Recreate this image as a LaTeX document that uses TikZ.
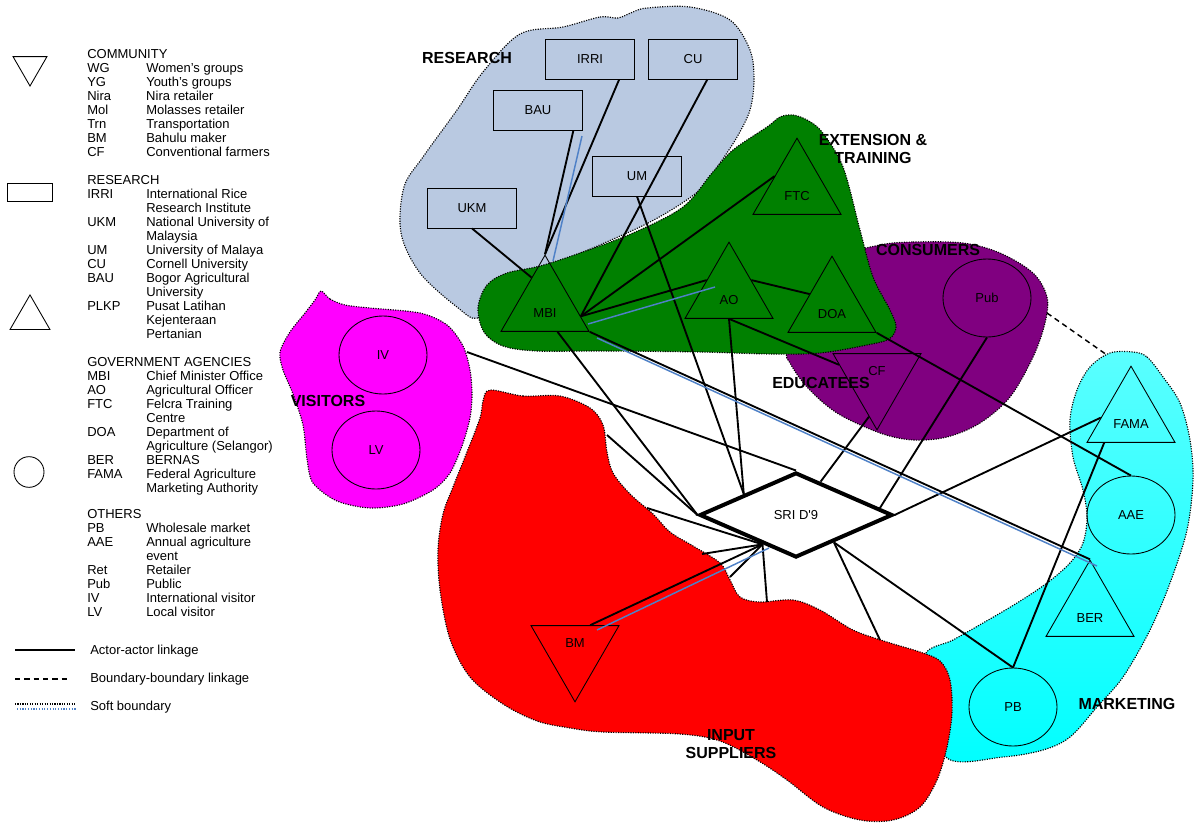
\documentclass[tikz,border=0pt]{standalone}
\usepackage{fontspec}
\setmainfont{Liberation Sans}
\usetikzlibrary{shapes.geometric,calc}
\definecolor{resblue}{RGB}{185,201,225}
\definecolor{extgreen}{RGB}{0,128,0}
\definecolor{conpurple}{RGB}{128,0,128}
\definecolor{vismag}{RGB}{255,0,255}
\definecolor{inred}{RGB}{255,0,0}
\definecolor{mkcyan}{RGB}{0,255,255}
\definecolor{mkcyanlt}{RGB}{90,255,255}
\definecolor{softblue}{RGB}{79,129,199}
\newcommand{\legkey}[1]{\makebox[44.25pt][l]{#1}}
\begin{document}
\begin{tikzpicture}[x=0.75pt,y=-0.75pt,
  blob/.style={draw=black,line width=0.85pt,dash pattern=on 0.85pt off 1pt},
  lbl/.style={font=\fontsize{9.75}{11}\selectfont},
  outl/.style={draw=black,line width=0.65pt},
  rbox/.style={outl,rectangle,minimum width=66.75pt,minimum height=30pt,inner sep=0pt,lbl},
  tri/.style={outl,regular polygon,regular polygon sides=3,minimum size=76.2pt,inner sep=0pt},
  itri/.style={tri,shape border rotate=180},
  ell/.style={outl,ellipse,minimum width=66pt,minimum height=58.5pt,inner sep=0pt,lbl},
  uplbl/.style={label={[lbl,yshift=-5.25pt]center:#1}},
  dnlbl/.style={label={[lbl,yshift=6pt]center:#1}},
  link/.style={draw=black,line width=1.4pt},
  soft/.style={draw=softblue,line width=1.1pt},
  bdash/.style={draw=black,line width=1.1pt,dash pattern=on 4pt off 3pt},
  region/.style={font=\bfseries\fontsize{12}{13.5}\selectfont,align=center,inner sep=0pt},
  legtxt/.style={font=\fontsize{9.75}{10.5}\selectfont,align=left,anchor=north west,inner sep=0pt},
]
\useasboundingbox (0,0) rectangle (1197,825);

% ---------- soft boundaries (blobs) ----------
\path[blob,fill=resblue] plot[smooth cycle,tension=0.55] coordinates {
 (563,27) (600,17) (618,18) (633,12) (647,8) (690,7) (730,20) (750,50) (754,80)
 (750,110) (737,137) (720,163) (700,190) (650,222) (570,258) (500,290) (478,318)
 (457,307) (420,273) (401,233) (404,187) (423,157) (457,110) (483,72) (520,34)};
\path[blob,fill=conpurple] plot[smooth cycle,tension=0.55] coordinates {
 (880,245) (913,242) (963,243) (1000,253) (1033,273) (1047,297) (1045,323)
 (1033,357) (1010,397) (980,423) (947,437) (913,440) (880,433) (837,413)
 (807,387) (790,363) (787,350) (800,300) (840,258)};
\path[blob,fill=extgreen] plot[smooth cycle,tension=0.55] coordinates {
 (793,115) (807,120) (822,132) (843,167) (860,230) (873,277) (890,310) (896,327)
 (889,339) (867,345) (820,353) (770,354) (700,352) (603,351) (537,351) (503,346)
 (484,332) (478,308) (487,285) (507,273) (540,266) (580,253) (633,233) (683,207)
 (712,173) (733,150) (767,127) (780,117)};
\path[blob,fill=vismag] plot[smooth cycle,tension=0.5] coordinates {
 (321,291) (330,299) (345,305) (370,308) (420,313) (447,325) (463,346) (470,370)
 (472,394) (470,418) (462,446) (450,473) (433,490) (403,504) (370,508) (337,501)
 (313,483) (307,459) (303,425) (293,394) (283,370) (280,352) (290,332) (305,313) (315,300)};
\path[blob,top color=mkcyanlt,bottom color=mkcyan] plot[smooth cycle,tension=0.55] coordinates {
 (1133,352) (1147,357) (1163,377) (1180,403) (1190,440) (1193,480) (1187,530)
 (1170,583) (1150,630) (1123,677) (1097,707) (1070,737) (1043,750) (1003,757)
 (947,758) (935,700) (925,655) (953,640) (983,623) (1017,603) (1047,583)
 (1070,563) (1083,543) (1087,517) (1083,490) (1073,457) (1070,420) (1077,390)
 (1090,367) (1110,353)};
\path[blob,fill=inred] plot[smooth cycle,tension=0.55] coordinates {
 (490,390) (523,396) (560,396) (590,408) (603,425) (607,452) (613,473) (630,494)
 (653,514) (670,532) (693,546) (720,563) (730,580) (740,597) (760,602) (793,600)
 (820,610) (853,630) (887,642) (920,652) (940,661) (950,680) (952,713) (947,747)
 (937,780) (920,807) (893,820) (860,820) (823,807) (787,780) (757,760) (720,741)
 (680,734) (603,732) (570,728) (537,721) (503,704) (470,677) (450,639) (440,590)
 (438,549) (443,514) (453,487) (467,452) (480,418) (483,401)};

% ---------- actors ----------
\node[rbox] (IRRI) at (590,59) {IRRI};
\node[rbox] (CU)   at (693,59) {CU};
\node[rbox] (BAU)  at (538,110) {BAU};
\node[rbox] (UM)   at (637,176) {UM};
\node[rbox] (UKM)  at (472,208) {UKM};
\node[tri,uplbl=MBI] (MBI) at (545,306) {};
\node[tri,uplbl=FTC] (FTC) at (797,189) {};
\node[tri,uplbl=AO]  (AO)  at (729,293) {};
\node[tri,uplbl=DOA] (DOA) at (832,307) {};
\node[itri,dnlbl=CF] (CF)  at (877,379) {};
\node[ell] (Pub) at (987,298) {Pub};
\node[ell] (IV)  at (383,355) {IV};
\node[ell] (LV)  at (376,450) {LV};
\node[itri,dnlbl=BM] (BM) at (575,651) {};
\node[tri,uplbl=FAMA] (FAMA) at (1131,417) {};
\node[ell] (AAE) at (1131,515) {AAE};
\node[tri,uplbl=BER] (BER) at (1090,611) {};
\node[ell] (PB)  at (1013,707) {PB};
\node[outl,diamond,line width=3pt,aspect=2.27,minimum width=144.75pt,minimum height=63.75pt,inner sep=0pt,lbl] (SRI) at (796,515) {SRI D\textquotesingle 9};

% ---------- attachment points ----------
\coordinate (mbiL) at ($(MBI.corner 1)!0.3!(MBI.corner 2)$);
\coordinate (mbiR) at ($(MBI.corner 1)!0.8!(MBI.corner 3)$);
\coordinate (mbiB) at ($(MBI.corner 2)!0.64!(MBI.corner 3)$);
\coordinate (ftcL) at ($(FTC.corner 1)!0.5!(FTC.corner 2)$);
\coordinate (aoL)  at ($(AO.corner 1)!0.5!(AO.corner 2)$);
\coordinate (aoR)  at ($(AO.corner 1)!0.5!(AO.corner 3)$);
\coordinate (doaL) at ($(DOA.corner 1)!0.5!(DOA.corner 2)$);
\coordinate (cfA)  at ($(CF.corner 3)!0.15!(CF.corner 1)$);
\coordinate (cfB)  at ($(CF.corner 3)!0.82!(CF.corner 1)$);
\coordinate (famaL) at ($(FAMA.corner 1)!0.675!(FAMA.corner 2)$);
\coordinate (famaB) at ($(FAMA.corner 2)!0.2!(FAMA.corner 3)$);
\coordinate (bmT)  at ($(BM.corner 3)!0.67!(BM.corner 2)$);
\coordinate (sriUL) at ($(SRI.west)!0.47!(SRI.north)$);
\coordinate (sriUa) at ($(SRI.north)!0.25!(SRI.east)$);
\coordinate (sriUb) at ($(SRI.north)!0.85!(SRI.east)$);
\coordinate (sriLR) at ($(SRI.south)!0.385!(SRI.east)$);
\coordinate (sriLL) at ($(SRI.west)!0.66!(SRI.south)$);
% free ends on soft boundaries
\coordinate (ivB)  at (467,352);
\coordinate (redA) at (607,435);
\coordinate (redB) at (647,508);
\coordinate (redC) at (702,554);
\coordinate (redD) at (730,577);
\coordinate (redE) at (767,602);
\coordinate (redF) at (880,640);
\coordinate (conB) at (1047,313);
\coordinate (mktB) at (1107,355);
% soft (blue) linkage ends
\coordinate (s1a) at (582,136); \coordinate (s1b) at (553,261);
\coordinate (s2a) at (588,324); \coordinate (s2b) at (715,287);
\coordinate (s3a) at (597,338); \coordinate (s3b) at (1097,566);
\coordinate (s4a) at (597,630); \coordinate (s4b) at (769,548);

% ---------- actor-actor linkages ----------
\draw[link] (UKM.south) -- (mbiL);
\draw[link] (BAU.-30) -- (MBI.corner 1);
\draw[link] (IRRI.-35) -- (MBI.corner 1);
\draw[link] (CU.-55) -- (mbiR);
\draw[link] (UM.south) -- (sriUL);
\draw[link] (mbiR) -- (ftcL);
\draw[link] (mbiR) -- (aoL);
\draw[link] (aoR) -- (doaL);
\draw[link] (AO.south) -- (sriUL);
\draw[link] (AO.south) -- (cfA);
\draw[link] (DOA.corner 3) -- (AAE.north);
\draw[link] (Pub.south) -- (sriUb);
\draw[link] (cfB) -- (sriUa);
\draw[link] (SRI.east) -- (famaL);
\draw[link] (MBI.corner 3) -- (BER.corner 1);
\draw[link] (mbiB) -- (SRI.west);
\draw[link] (ivB) -- (SRI.north);
\draw[link] (famaB) -- (PB.north);
\draw[link] (sriLR) -- (PB.north);
\draw[link] (sriLR) -- (redF);
\draw[link] (redA) -- (SRI.west);
\draw[link] (redB) -- (sriLL);
\draw[link] (redC) -- (sriLL);
\draw[link] (redD) -- (sriLL);
\draw[link] (redE) -- (sriLL);
\draw[link] (bmT) -- (sriLL);
% soft linkages
\draw[soft] (s1a) -- (s1b);
\draw[soft] (s2a) -- (s2b);
\draw[soft] (s3a) -- (s3b);
\draw[soft] (s4a) -- (s4b);
% boundary-boundary linkage
\draw[bdash] (conB) -- (mktB);

% ---------- region labels ----------
\node[region] (tRes) at (467,58) {RESEARCH};
\node[region] (tExt) at (873,149) {EXTENSION \&\\TRAINING};
\node[region] (tCon) at (928,250) {CONSUMERS};
\node[region] (tEdu) at (821,383) {EDUCATEES};
\node[region] (tVis) at (328,401) {VISITORS};
\node[region] (tInp) at (731,744) {INPUT\\SUPPLIERS};
\node[region] (tMkt) at (1127,704) {MARKETING};

% ---------- legend ----------
\node[outl,regular polygon,regular polygon sides=3,shape border rotate=180,minimum size=29.4pt,inner sep=0pt] (lgCom) at (30,66.4) {};
\node[outl,rectangle,minimum width=33.75pt,minimum height=13.5pt,inner sep=0pt] (lgRes) at (29.5,192) {};
\node[outl,regular polygon,regular polygon sides=3,minimum size=34.6pt,inner sep=0pt] (lgGov) at (30,318) {};
\node[outl,ellipse,minimum width=22.5pt,minimum height=23pt,inner sep=0pt] (lgOth) at (29,472) {};

\node[legtxt] (txCom) at (87,49.2) {COMMUNITY\\
\legkey{WG}Women's groups\\
\legkey{YG}Youth's groups\\
\legkey{Nira}Nira retailer\\
\legkey{Mol}Molasses retailer\\
\legkey{Trn}Transportation\\
\legkey{BM}Bahulu maker\\
\legkey{CF}Conventional farmers};
\node[legtxt] (txRes) at (87,175.2) {RESEARCH\\
\legkey{IRRI}International Rice\\
\legkey{}Research Institute\\
\legkey{UKM}National University of\\
\legkey{}Malaysia\\
\legkey{UM}University of Malaya\\
\legkey{CU}Cornell University\\
\legkey{BAU}Bogor Agricultural\\
\legkey{}University\\
\legkey{PLKP}Pusat Latihan\\
\legkey{}Kejenteraan\\
\legkey{}Pertanian};
\node[legtxt] (txGov) at (87,357.2) {GOVERNMENT AGENCIES\\
\legkey{MBI}Chief Minister Office\\
\legkey{AO}Agricultural Officer\\
\legkey{FTC}Felcra Training\\
\legkey{}Centre\\
\legkey{DOA}Department of\\
\legkey{}Agriculture (Selangor)\\
\legkey{BER}BERNAS\\
\legkey{FAMA}Federal Agriculture\\
\legkey{}Marketing Authority};
\node[legtxt] (txOth) at (87,509.2) {OTHERS\\
\legkey{PB}Wholesale market\\
\legkey{AAE}Annual agriculture\\
\legkey{}event\\
\legkey{Ret}Retailer\\
\legkey{Pub}Public\\
\legkey{IV}International visitor\\
\legkey{LV}Local visitor};

\coordinate (la1) at (15,650); \coordinate (la2) at (75,650);
\coordinate (lb1) at (15,679); \coordinate (lb2) at (70,679);
\coordinate (lc1) at (15,704); \coordinate (lc2) at (75,704);
\coordinate (ld1) at (17,709); \coordinate (ld2) at (77,709);
\draw[line width=1.3pt] (la1) -- (la2);
\draw[bdash] (lb1) -- (lb2);
\draw[blob] (lc1) -- (lc2);
\draw[draw=softblue,line width=0.85pt,dash pattern=on 0.85pt off 1.2pt] (ld1) -- (ld2);
\node[lbl,anchor=west,inner sep=0pt] (lgA) at (90,651) {Actor-actor linkage};
\node[lbl,anchor=west,inner sep=0pt] (lgB) at (90,679) {Boundary-boundary linkage};
\node[lbl,anchor=west,inner sep=0pt] (lgC) at (90,707) {Soft boundary};
\end{tikzpicture}
\end{document}
